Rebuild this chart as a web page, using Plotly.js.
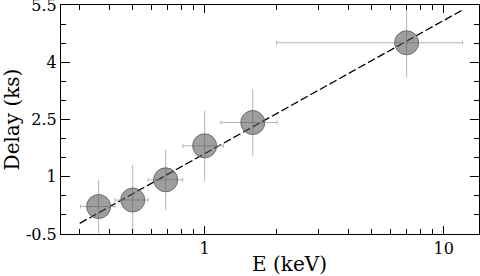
<!DOCTYPE html>
<html><head><meta charset="utf-8">
<script src="https://cdn.plot.ly/plotly-3.0.1.min.js"></script>
<style>html,body{margin:0;padding:0;background:#fff}#chart{width:480px;height:276px}</style>
</head><body><div id="chart"></div>
<script>
// Data
const energy = [0.36, 0.50, 0.687, 1.0, 1.59, 7.0];
const energyErrMinus = [0.058, 0.079, 0.107, 0.19, 0.42, 5.0];
const energyErrPlus = [0.061, 0.08, 0.122, 0.20, 0.42, 5.0];
const delay = [0.22, 0.39, 0.92, 1.81, 2.42, 4.51];
const delayErr = [0.70, 0.92, 0.79, 0.92, 0.88, 0.91];
const fitE = [0.30, 12.0];
const fitDelay = [-0.22, 5.37];
const yTickVals = [-0.5, 1, 2.5, 4, 5.5];
const yTickText = ['-0.5', '1', '2.5', '4', '5.5'];
const xTickVals = [1, 10];
const xTickText = ['1', '10'];

const font = "'DejaVu Serif', serif";

const traces = [
  {
    x: fitE, y: fitDelay, mode: 'lines', type: 'scatter',
    line: {color: '#000', width: 1.3, dash: '8px,3px'},
    hoverinfo: 'skip', showlegend: false
  },
  {
    x: energy, y: delay, mode: 'markers', type: 'scatter',
    error_y: {type: 'data', array: delayErr, color: '#b4b4b4', thickness: 1, width: 0},
    error_x: {type: 'data', array: energyErrPlus, arrayminus: energyErrMinus, symmetric: false, color: '#b4b4b4', thickness: 1, width: 2},
    marker: {size: 24, color: 'rgba(80,80,80,0.55)', line: {color: '#6a6a6a', width: 1}},
    showlegend: false
  }
];

const layout = {
  width: 480, height: 276,
  margin: {l: 61, r: 1, t: 5, b: 42},
  paper_bgcolor: '#fff', plot_bgcolor: '#fff',
  font: {family: font, color: '#000', size: 16},
  showlegend: false,
  xaxis: {
    type: 'log', range: [Math.log10(0.2505), Math.log10(14.06)],
    tickvals: xTickVals, ticktext: xTickText,
    ticks: 'inside', ticklen: 8, tickwidth: 1, tickcolor: '#000',
    showline: true, linecolor: '#000', linewidth: 1, mirror: 'ticks',
    showgrid: false, zeroline: false,
    tickfont: {family: font, size: 16},
    ticklabeloverflow: 'allow',
    minor: {dtick: 'D1', ticks: 'inside', ticklen: 5, tickcolor: '#000', tickwidth: 1, showgrid: false}
  },
  yaxis: {
    range: [-0.5, 5.5],
    tickvals: yTickVals, ticktext: yTickText,
    ticks: 'inside', ticklen: 9, tickwidth: 1, tickcolor: '#000',
    showline: true, linecolor: '#000', linewidth: 1, mirror: 'ticks',
    showgrid: false, zeroline: false,
    tickfont: {family: font, size: 16},
    ticklabeloverflow: 'allow',
    minor: {dtick: 0.5, ticks: 'inside', ticklen: 5, tickcolor: '#000', tickwidth: 1, showgrid: false},
    title: {text: 'Delay (ks)', font: {family: font, size: 20}, standoff: 4}
  },
  annotations: [{
    text: 'E (keV)', xref: 'paper', yref: 'paper', x: 0.546, y: 0, yshift: -17,
    xanchor: 'center', yanchor: 'top', showarrow: false, borderpad: 0,
    font: {family: font, size: 20}
  }]
};

Plotly.newPlot('chart', traces, layout, {staticPlot: true});
</script>
</body></html>
